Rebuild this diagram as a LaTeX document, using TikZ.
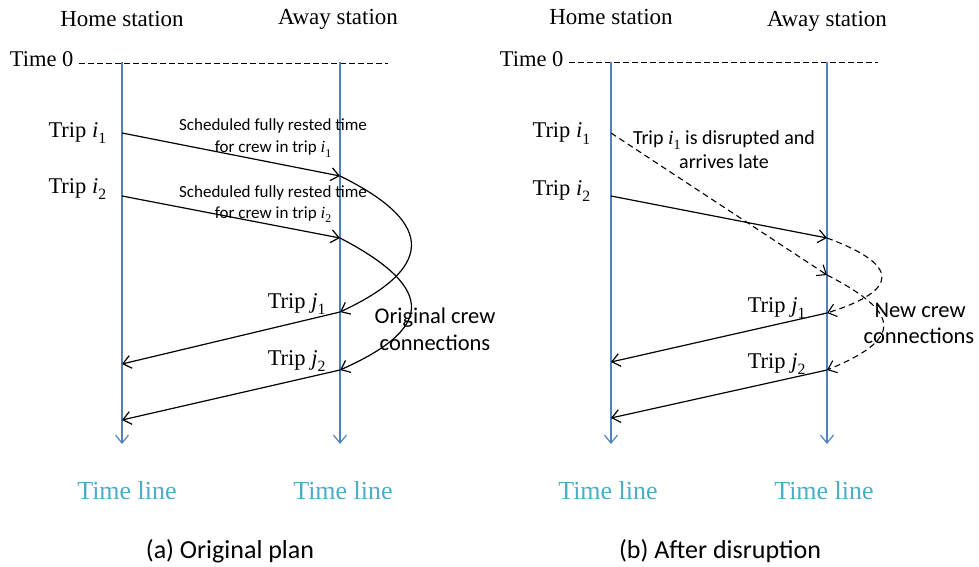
\documentclass[tikz,border=0pt]{standalone}
\usepackage{fontspec}
\setmainfont{Liberation Serif}
\newfontfamily\calib{Carlito}
\usetikzlibrary{arrows.meta}
\definecolor{lineblue}{HTML}{4F81BD}
\definecolor{labelteal}{HTML}{4BACC6}
% upright, lowered subscript digit
\newcommand\sbs[1]{\raisebox{-0.28em}{\scalebox{0.7}{\rmfamily\upshape #1}}}
\begin{document}
\begin{tikzpicture}[x=1pt,y=-1pt,
  >={Straight Barb[length=8pt,width=13pt]},
  station/.style={font=\fontsize{23}{26}\selectfont, anchor=base},
  triplbl/.style={font=\fontsize{22.5}{26}\selectfont, anchor=base},
  note/.style={font=\calib\fontsize{17}{20}\selectfont, anchor=base},
  bignote/.style={font=\calib\fontsize{22.5}{26}\selectfont, anchor=base},
  dnote/.style={font=\calib\fontsize{20}{24}\selectfont, anchor=base},
  tline/.style={font=\fontsize{26}{30}\selectfont, text=labelteal, anchor=base},
  caption/.style={font=\calib\fontsize{26}{30}\selectfont, anchor=base},
  axis/.style={draw=lineblue, line width=1.2pt, ->},
  trip/.style={draw=black, line width=1.2pt, ->},
  conn/.style={draw=black, line width=1.2pt, ->},
  late/.style={draw=black, line width=1.1pt, ->, dash pattern=on 6pt off 4pt},
  zero/.style={draw=black, line width=0.9pt, dash pattern=on 5.5pt off 3.5pt}]
\useasboundingbox (0,0) rectangle (979,567);

% ---------------- (a) original plan ----------------
\node[station] (hA) at (122,27) {Home station};
\node[station] (aA) at (338,25) {Away station};
\node[font=\fontsize{22.5}{26}\selectfont, anchor=base east] (t0A) at (77,67) {Time 0};
\coordinate (zA) at (388,63);
\draw[zero] (t0A.base east |- zA) ++(2,0) -- (zA);

\coordinate (hAtop) at (122,62);  \coordinate (hAbot) at (122,444);
\coordinate (aAtop) at (340,62);  \coordinate (aAbot) at (340,444);
\draw[axis] (hAtop) -- (hAbot);
\draw[axis] (aAtop) -- (aAbot);

\coordinate (Ai1s) at (122,133); \coordinate (Ai1e) at (340,176);
\coordinate (Ai2s) at (122,196); \coordinate (Ai2e) at (340,238);
\coordinate (Aj1s) at (340,312); \coordinate (Aj1e) at (122,364);
\coordinate (Aj2s) at (340,370); \coordinate (Aj2e) at (122,420);

\draw[trip] (Ai1s) -- (Ai1e);
\draw[trip] (Ai2s) -- (Ai2e);
\draw[trip] (Aj1s) -- (Aj1e);
\draw[trip] (Aj2s) -- (Aj2e);
\draw[conn] (Ai1e) .. controls (440,225) and (430,270) .. (Aj1s);
\draw[conn] (Ai2e) .. controls (440,290) and (430,330) .. (Aj2s);

\node[triplbl, anchor=base west] (Li1) at (45,137) {Trip \textit{i}\sbs{1}};
\node[triplbl, anchor=base west] (Li2) at (45,193) {Trip \textit{i}\sbs{2}};
\node[triplbl, anchor=base east] (Lj1) at (329,308) {Trip \textit{j}\sbs{1}};
\node[triplbl, anchor=base east] (Lj2) at (329,365) {Trip \textit{j}\sbs{2}};

\node[note] (s1a) at (273,131) {Scheduled fully rested time};
\node[note] (s1b) at (273,153) {for crew in trip {\rmfamily\itshape i}\sbs{1}};
\node[note] (s2a) at (273,197) {Scheduled fully rested time};
\node[note] (s2b) at (273,218) {for crew in trip {\rmfamily\itshape i}\sbs{2}};

\node[bignote] (oc1) at (435,323) {Original crew};
\node[bignote] (oc2) at (435,350) {connections};

\node[tline] (tlA1) at (127,499) {Time line};
\node[tline] (tlA2) at (343,499) {Time line};
\node[caption] (capA) at (230,558) {(a) Original plan};

% ---------------- (b) after disruption ----------------
\node[station] (hB) at (611,25) {Home station};
\node[station] (aB) at (827,27) {Away station};
\node[font=\fontsize{22.5}{26}\selectfont, anchor=base east] (t0B) at (567,67) {Time 0};
\coordinate (zB) at (878,62);
\draw[zero] (t0B.base east |- zB) ++(2,0) -- (zB);

\coordinate (hBtop) at (611,62);  \coordinate (hBbot) at (611,444);
\coordinate (aBtop) at (827,62);  \coordinate (aBbot) at (827,444);
\draw[axis] (hBtop) -- (hBbot);
\draw[axis] (aBtop) -- (aBbot);

\coordinate (Bi1s) at (611,133); \coordinate (Bi1e) at (827,275);
\coordinate (Bi2s) at (611,196); \coordinate (Bi2e) at (827,238);
\coordinate (Bj1s) at (827,313); \coordinate (Bj1e) at (611,362);
\coordinate (Bj2s) at (827,370); \coordinate (Bj2e) at (611,418);

\draw[late] (Bi1s) -- (Bi1e);
\draw[trip] (Bi2s) -- (Bi2e);
\draw[trip] (Bj1s) -- (Bj1e);
\draw[trip] (Bj2s) -- (Bj2e);
\draw[late] (Bi2e) .. controls (900,265) and (900,290) .. (Bj1s);
\draw[late] (Bi1e) .. controls (905,315) and (900,340) .. (Bj2s);

\node[triplbl, anchor=base west] (Ri1) at (529,138) {Trip \textit{i}\sbs{1}};
\node[triplbl, anchor=base west] (Ri2) at (529,195) {Trip \textit{i}\sbs{2}};
\node[triplbl, anchor=base east] (Rj1) at (809,312) {Trip \textit{j}\sbs{1}};
\node[triplbl, anchor=base east] (Rj2) at (809,368) {Trip \textit{j}\sbs{2}};

\node[dnote] (d1) at (724,144) {Trip {\rmfamily\itshape i}\sbs{1} is disrupted and};
\node[dnote] (d2) at (724,168) {arrives late};

\node[bignote] (nc1) at (920,317) {New crew};
\node[bignote] (nc2) at (919,343) {connections};

\node[tline] (tlB1) at (608,499) {Time line};
\node[tline] (tlB2) at (824,499) {Time line};
\node[caption] (capB) at (720,558) {(b) After disruption};
\end{tikzpicture}
\end{document}
